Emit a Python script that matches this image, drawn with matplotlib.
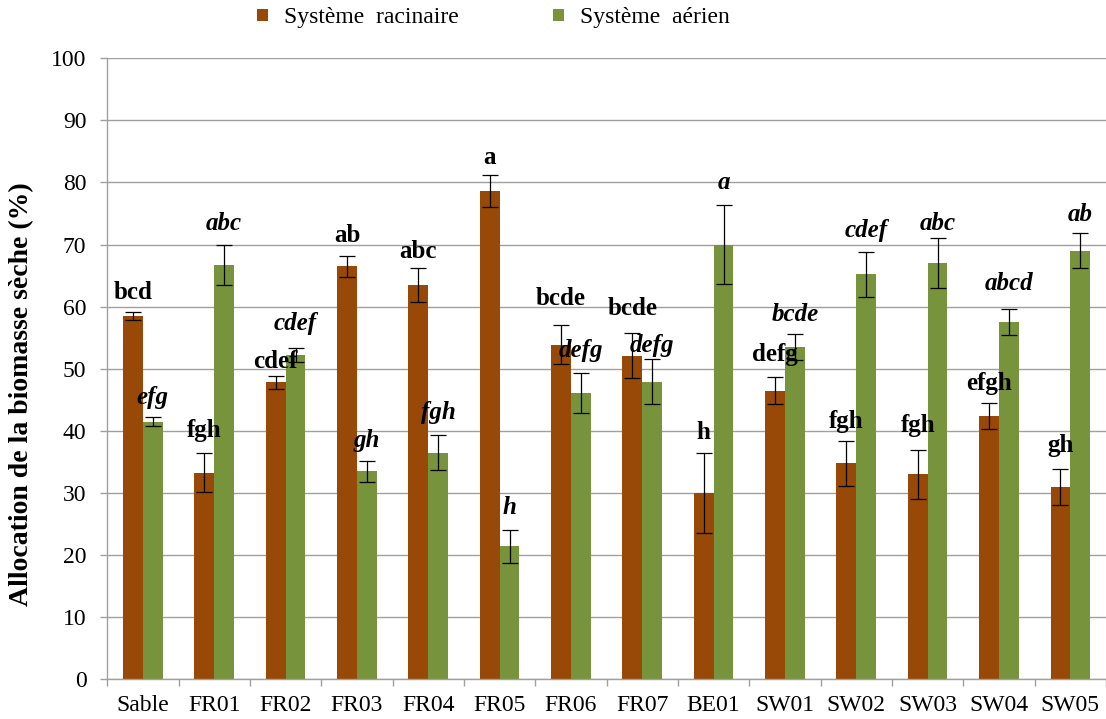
import numpy as np
import matplotlib.pyplot as plt

sites = ['Sable', 'FR01', 'FR02', 'FR03', 'FR04', 'FR05', 'FR06',
         'FR07', 'BE01', 'SW01', 'SW02', 'SW03', 'SW04', 'SW05']

# allocation (%) racines / parties aériennes
racinaire = [58.5, 33.3, 47.8, 66.5, 63.5, 78.6, 53.9, 52.1, 30.0, 46.5, 34.8, 33.0, 42.4, 31.0]
aerien = [41.5, 66.7, 52.2, 33.5, 36.5, 21.4, 46.1, 47.9, 70.0, 53.5, 65.2, 67.0, 57.6, 69.0]
err_racinaire = [0.7, 3.2, 1.1, 1.7, 2.8, 2.6, 3.2, 3.6, 6.4, 2.1, 3.6, 4.0, 2.1, 2.9]
err_aerien = [0.7, 3.2, 1.1, 1.7, 2.8, 2.6, 3.2, 3.6, 6.4, 2.1, 3.6, 4.0, 2.1, 2.8]

# groupes statistiques
lettres_racinaire = ['bcd', 'fgh', 'cdef', 'ab', 'abc', 'a', 'bcde', 'bcde',
                     'h', 'defg', 'fgh', 'fgh', 'efgh', 'gh']
lettres_aerien = ['efg', 'abc', 'cdef', 'gh', 'fgh', 'h', 'defg', 'defg',
                  'a', 'bcde', 'cdef', 'abc', 'abcd', 'ab']

# décalage des lettres au-dessus des barres d'erreur
dy_racinaire = [3.1, 3.6, 2.2, 3.2, 2.6, 2.9, 4.2, 4.0, 3.3, 3.7, 3.1, 3.8, 3.2, 3.8]
dy_aerien = [3.2, 3.5, 4.0, 3.2, 3.6, 3.7, 3.7, 2.3, 3.6, 3.2, 3.5, 2.4, 4.1, 3.0]

brun = '#984807'
vert = '#77933C'
gris = '#A0A0A0'

plt.rcParams['font.family'] = ['Liberation Serif', 'DejaVu Serif']
plt.rcParams['font.size'] = 17

fig = plt.figure(figsize=(11.06, 7.19), dpi=100)
ax = fig.add_axes([107.3/1106, 1-679.3/719, 1-107.3/1106, (679.3-58.3)/719])

x = np.arange(len(sites))
w = 0.278
ekw = dict(ecolor='k', elinewidth=0.9, capsize=5.5, capthick=0.9)
b1 = ax.bar(x - w/2, racinaire, w, color=brun, yerr=err_racinaire,
            error_kw=ekw, label='Système  racinaire', zorder=2)
b2 = ax.bar(x + w/2, aerien, w, color=vert, yerr=err_aerien,
            error_kw=ekw, label='Système  aérien', zorder=2)

for i in range(len(sites)):
    ax.text(x[i] - w/2, racinaire[i] + err_racinaire[i] + dy_racinaire[i],
            lettres_racinaire[i], ha='center', va='center',
            fontsize=18, fontweight='bold', zorder=4)
    ax.text(x[i] + w/2, aerien[i] + err_aerien[i] + dy_aerien[i],
            lettres_aerien[i], ha='center', va='center',
            fontsize=18, fontweight='bold', fontstyle='italic', zorder=4)

ax.set_xlim(-0.5, (1106-143.3)/72)
ax.set_ylim(0, 100)
ax.set_yticks(range(0, 101, 10))
ax.set_xticks(x)
ax.set_xticklabels(sites)
ax.set_xticks(np.arange(-0.5, len(sites), 1), minor=True)
ax.tick_params(axis='x', which='major', length=0, pad=11)
ax.tick_params(axis='x', which='minor', length=5, color=gris, width=1)
ax.tick_params(axis='y', length=5, color=gris, width=1, pad=10)

ax.grid(axis='y', color=gris, lw=1, zorder=0)
ax.set_axisbelow(True)
for s in ['top', 'right']:
    ax.spines[s].set_visible(False)
for s in ['left', 'bottom']:
    ax.spines[s].set_color(gris)
    ax.spines[s].set_linewidth(1)

fig.text(22/1106, 1-394/719, 'Allocation de la biomasse sèche (%)',
         rotation=90, ha='center', va='center', fontsize=20, fontweight='bold')

fig.legend(handles=[b1, b2], loc='center', bbox_to_anchor=(493.5/1106, 1-18/719),
           ncol=2, frameon=False, fontsize=17, handlelength=0.45, handleheight=0.45,
           handletextpad=0.7, columnspacing=4.0)

fig.savefig('out.png', dpi=100)
